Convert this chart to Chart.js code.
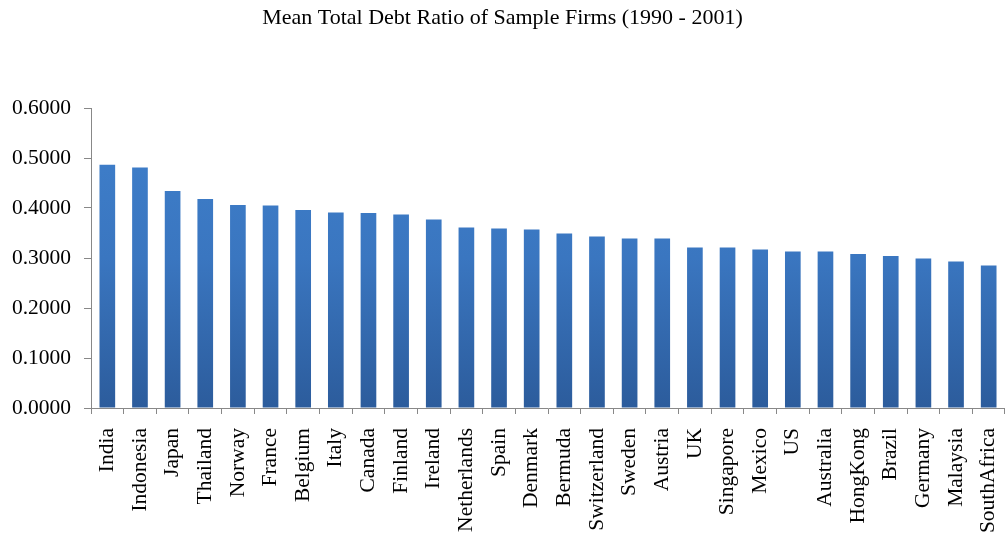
<!DOCTYPE html>
<html>
<head>
<meta charset="utf-8">
<script src="https://cdn.jsdelivr.net/npm/chart.js@4"></script>
<style>
  html, body { margin: 0; padding: 0; background: #fff; }
  #wrap { width: 1005px; height: 538px; }
</style>
</head>
<body>
<div id="wrap"><canvas id="debtChart" width="1005" height="538"></canvas></div>
<script>
const chartTitle = "Mean Total Debt Ratio of Sample Firms (1990 - 2001)";
const countries = ["India","Indonesia","Japan","Thailand","Norway","France","Belgium","Italy","Canada","Finland",
  "Ireland","Netherlands","Spain","Denmark","Bermuda","Switzerland","Sweden","Austria","UK","Singapore",
  "Mexico","US","Australia","HongKong","Brazil","Germany","Malaysia","SouthAfrica"];
const debtRatio = [0.4866,0.4810,0.4340,0.4180,0.4060,0.4050,0.3960,0.3910,0.3900,0.3870,
  0.3770,0.3610,0.3590,0.3570,0.3490,0.3430,0.3390,0.3390,0.3210,0.3210,
  0.3170,0.3130,0.3130,0.3080,0.3040,0.2990,0.2930,0.2850];
const yTicks = [0, 0.1, 0.2, 0.3, 0.4, 0.5, 0.6];

const serif = "'Liberation Serif', 'Times New Roman', serif";

function barFill(ctx) {
  const area = ctx.chart.chartArea;
  if (!area) return '#3b79c4';
  const g = ctx.chart.ctx.createLinearGradient(0, area.top, 0, area.bottom);
  g.addColorStop(0, '#3f80cc');
  g.addColorStop(0.5, '#3a76c0');
  g.addColorStop(1, '#2c5c9c');
  return g;
}

document.addEventListener("DOMContentLoaded", function() {
  window.debtChart = new Chart(document.getElementById("debtChart").getContext("2d"), {
    type: 'bar',
    data: {
      labels: countries,
      datasets: [{ data: debtRatio, backgroundColor: barFill, borderWidth: 0,
        categoryPercentage: 1.0, barPercentage: 0.48 }]
    },
    options: {
      responsive: false,
      animation: false,
      layout: { padding: 0 },
      plugins: {
        legend: { display: false },
        tooltip: { enabled: false },
        title: { display: true, text: chartTitle, color: '#000',
          font: { family: serif, size: 22, weight: 'normal', lineHeight: 1.2 },
          padding: { top: 5, bottom: 76.6 } }
      },
      scales: {
        x: {
          grid: { display: true, drawOnChartArea: false, drawTicks: true, tickLength: 6, color: '#888', offset: true },
          border: { color: '#888', width: 1 },
          ticks: { color: '#000', font: { family: serif, size: 21.5 }, minRotation: 90, maxRotation: 90, padding: 14, autoSkip: false },
          afterFit: s => { s.height = 130; s.paddingLeft = 0; s.paddingRight = 0; }
        },
        y: {
          min: 0, max: 0.6,
          afterBuildTicks: s => { s.ticks = yTicks.map(v => ({ value: v })); },
          grid: { display: true, drawOnChartArea: false, drawTicks: true, tickLength: 7, color: '#888' },
          border: { color: '#888', width: 1 },
          ticks: { color: '#000', font: { family: serif, size: 21.5 }, padding: 13, callback: v => Number(v).toFixed(4) },
          afterFit: s => { s.width = 91; s.paddingTop = 0; s.paddingBottom = 0; }
        }
      }
    }
  });
});
</script>
</body>
</html>
